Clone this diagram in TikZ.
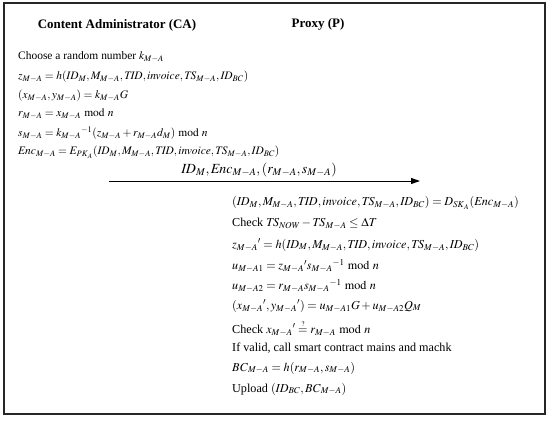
\documentclass[tikz,border=0pt]{standalone}
\usepackage{mathptmx}
\usepackage[no-math]{fontspec}
\setmainfont{Liberation Serif}
\usetikzlibrary{arrows.meta}
\tikzset{
  txt/.style={anchor=west, inner sep=0pt, font=\fontsize{11.5}{13}\selectfont},
  ptxt/.style={anchor=west, inner sep=0pt, font=\fontsize{12.2}{14}\selectfont},
  head/.style={inner sep=0pt, font=\fontsize{13}{15}\selectfont\bfseries},
  msg/.style={inner sep=0pt, font=\fontsize{14}{16}\selectfont},
  frame/.style={draw=black!85, line width=1.6bp},
  flow/.style={draw, line width=1bp, -{Triangle[length=9bp,width=6bp]}}
}
\begin{document}
\begin{tikzpicture}[x=1bp,y=-1bp]
\useasboundingbox (0,0) rectangle (550,420);
\draw[frame] (4,3) rectangle (545,414);
\node[head] (ca) at (117,25) {Content Administrator (CA)};
\node[head] (px) at (318,24) {Proxy (P)};
% CA side
\node[txt] (c1) at (18,57) {Choose a random number $k_{M-A}$};
\node[txt] (c2) at (18,77) {$z_{M-A}=h(\mathit{ID}_M,M_{M-A},\mathit{TID},\mathit{invoice},\mathit{TS}_{M-A},\mathit{ID}_{BC})$};
\node[txt] (c3) at (18,96) {$(x_{M-A},y_{M-A})=k_{M-A}G$};
\node[txt] (c4) at (18,114) {$r_{M-A}=x_{M-A}\bmod n$};
\node[txt] (c5) at (18,133) {$s_{M-A}={k_{M-A}}^{-1}(z_{M-A}+r_{M-A}d_M)\bmod n$};
\node[txt] (c6) at (18,152) {$\mathit{Enc}_{M-A}=E_{\mathit{PK}_A}(\mathit{ID}_M,M_{M-A},\mathit{TID},\mathit{invoice},\mathit{TS}_{M-A},\mathit{ID}_{BC})$};
% message
\coordinate (as) at (109,181);
\coordinate (ae) at (420,181);
\draw[flow] (as) -- (ae);
\node[msg] (m) at (259,170) {$\mathit{ID}_M,\mathit{Enc}_{M-A},(r_{M-A},s_{M-A})$};
% Proxy side
\node[ptxt] (p1) at (232,203) {$(\mathit{ID}_M,M_{M-A},\mathit{TID},\mathit{invoice},\mathit{TS}_{M-A},\mathit{ID}_{BC})=D_{\mathit{SK}_A}(\mathit{Enc}_{M-A})$};
\node[ptxt] (p2) at (232,224) {Check $\mathit{TS}_{\mathit{NOW}}-\mathit{TS}_{M-A}\le\Delta T$};
\node[ptxt] (p3) at (232,245) {${z_{M-A}}'=h(\mathit{ID}_M,M_{M-A},\mathit{TID},\mathit{invoice},\mathit{TS}_{M-A},\mathit{ID}_{BC})$};
\node[ptxt] (p4) at (232,266) {$u_{M-A1}={z_{M-A}}'{s_{M-A}}^{-1}\bmod n$};
\node[ptxt] (p5) at (232,286) {$u_{M-A2}=r_{M-A}{s_{M-A}}^{-1}\bmod n$};
\node[ptxt] (p6) at (232,306) {$({x_{M-A}}',{y_{M-A}}')=u_{M-A1}G+u_{M-A2}Q_M$};
\node[ptxt] (p7) at (232,328) {Check ${x_{M-A}}'\stackrel{\scriptscriptstyle ?}{=}r_{M-A}\bmod n$};
\node[ptxt] (p8) at (232,348) {If valid, call smart contract mains and machk};
\node[ptxt] (p9) at (232,368) {$\mathit{BC}_{M-A}=h(r_{M-A},s_{M-A})$};
\node[ptxt] (p10) at (232,389) {Upload $(\mathit{ID}_{BC},\mathit{BC}_{M-A})$};
\end{tikzpicture}
\end{document}
